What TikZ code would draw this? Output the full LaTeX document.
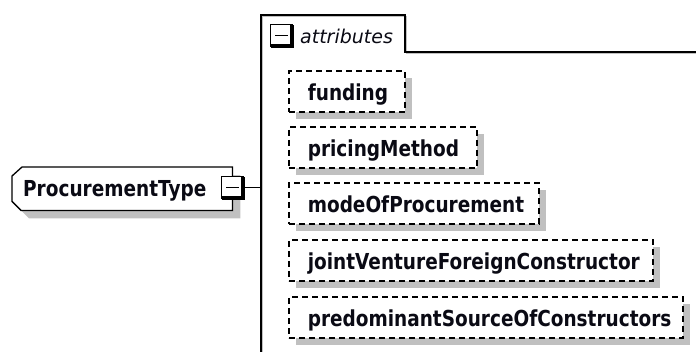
\documentclass[tikz,border=0pt]{standalone}
\usepackage{fontspec}
\setmainfont{DejaVu Sans}[FakeStretch=0.84]
\newfontfamily\tabfont{DejaVu Sans}
\usetikzlibrary{shadows,backgrounds,calc}
\definecolor{shade}{HTML}{C0C0C0}
\definecolor{ink}{HTML}{0A0A14}
% thick lower-right rim and minus sign of an expand/collapse button
\newcommand\togglemarks[1]{%
  \draw[line width=3.5pt] ($(#1.north east)+(-1.1,1.5)$) -- ($(#1.south east)+(-1.1,-1.1)$) -- ($(#1.south west)+(1.5,-1.1)$);
  \draw[line width=1.6pt] ($(#1.center)+(-6.5,0)$) -- ($(#1.center)+(6.5,0)$);
}
\begin{document}
\begin{tikzpicture}[x=1pt,y=-1pt,
  attrbox/.style={draw=black, line width=1.6pt, dash pattern=on 6pt off 4pt, fill=white,
    anchor=north west, minimum height=41pt, inner ysep=0pt, inner xsep=19pt,
    text width=#1, align=left, text height=19pt, text depth=0pt,
    font=\fontsize{22}{26}\selectfont\bfseries, text=ink,
    general shadow={fill=shade, draw=none, shadow xshift=7pt, shadow yshift=-7pt}},
  elemtext/.style={anchor=north west, minimum width=220pt, minimum height=43pt,
    inner ysep=0pt, inner xsep=11pt, text width=198pt, align=left,
    text height=16pt, text depth=0pt, font=\fontsize{22}{26}\selectfont\bfseries, text=ink},
  elemline/.style={draw=black, line width=1.3pt, fill=white},
  toggle/.style={draw=black, line width=1.3pt, fill=white, minimum size=22pt, inner sep=0pt},
  conn/.style={draw=black, line width=1.5pt},
  grpline/.style={draw=black, line width=1.6pt},
  grpshade/.style={draw=shade, line width=1.4pt},
  grplabel/.style={anchor=base west, inner sep=0pt, font=\tabfont\fontsize{19}{23}\selectfont\itshape, text=ink},
]
\useasboundingbox (0,0) rectangle (696,351);

% attributes group frame with its tab
\coordinate (gbot) at (261,353);
\coordinate (gtl) at (261,15);
\coordinate (gtr) at (405,15);
\coordinate (gtab) at (405,52);
\coordinate (gend) at (698,52);
\draw[grpshade, transform canvas={shift={(1.4,1.4)}}] (gbot) -- (gtl) -- (gtr) -- (gtab) -- (gend);
\draw[grpline] (gbot) -- (gtl) -- (gtr) -- (gtab) -- (gend);

\node[toggle] (abtn) at (281.5,35.5) {};
\togglemarks{abtn}
\node[grplabel] (alabel) at (300,43) {attributes};

% optional attributes
\node[attrbox=78pt]  (funding) at (288,70)  {funding};
\node[attrbox=150pt] (pricing) at (288,126) {pricingMethod};
\node[attrbox=212pt] (mode)    at (288,182) {modeOfProcurement};
\node[attrbox=326pt] (joint)   at (288,239) {jointVentureForeignConstructor};
\node[attrbox=356pt] (predom)  at (288,296) {predominantSourceOfConstructors};

% the complex type with chamfered left side
\node[elemtext] (ptype) at (12,167) {ProcurementType};
\begin{scope}[on background layer]
  \path[elemline, preaction={fill=shade, draw=none, transform canvas={shift={(8,8)}}}]
    ($(ptype.north west)+(10,0)$) -- (ptype.north east) -- (ptype.south east)
    -- ($(ptype.south west)+(9,0)$) -- ($(ptype.south west)+(0,-9)$)
    -- ($(ptype.north west)+(0,9)$) -- cycle;
\end{scope}

\node[toggle] (pbtn) at (232.5,187.5) {};
\togglemarks{pbtn}
\draw[conn] (pbtn.east) -- (pbtn.east -| gtl);
\end{tikzpicture}
\end{document}
